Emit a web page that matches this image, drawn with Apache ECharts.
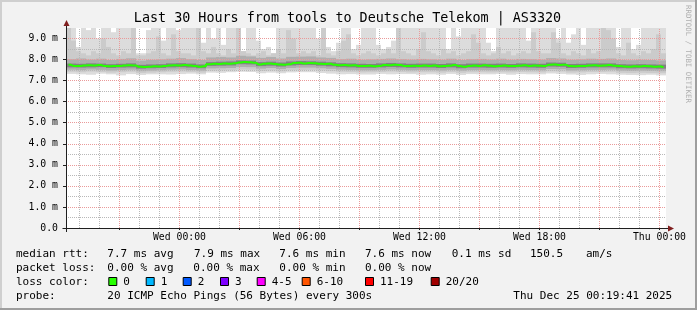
<!DOCTYPE html>
<html><head><meta charset="utf-8">
<script src="https://cdn.jsdelivr.net/npm/echarts@6/dist/echarts.min.js"></script>
<style>html,body{margin:0;padding:0;background:#f2f2f2}#c{width:697px;height:310px}</style>
</head><body><div id="c"></div>
<script>
// ---------- DATA ----------
const title = 'Last 30 Hours from tools to Deutsche Telekom | AS3320';
const startHour = -5.672;   // Tue 18:19:41 relative to Wed 00:00
const endHour = 24.328;     // Thu 00:19:41
const fineStep = 0.25;      // hours per value in 120-value arrays
const coarseStep = 0.5;     // hours per value in 60-value arrays

const xTickValues = [0, 6, 12, 18, 24];
const xTickLabels = ['Wed 00:00', 'Wed 06:00', 'Wed 12:00', 'Wed 18:00', 'Thu 00:00'];
const xMajorGrid = [-3, 0, 3, 6, 9, 12, 15, 18, 21, 24];
const xMinorGrid = [-5, -4, -2, -1, 1, 2, 4, 5, 7, 8, 10, 11, 13, 14, 16, 17, 19, 20, 22, 23];
const yTickValues = [0, 1, 2, 3, 4, 5, 6, 7, 8, 9];
const yTickLabels = ['0.0', '1.0 m', '2.0 m', '3.0 m', '4.0 m', '5.0 m', '6.0 m', '7.0 m', '8.0 m', '9.0 m'];
const yMajorGrid = [1, 2, 3, 4, 5, 6, 7, 8, 9];
const yMinorGrid = [0.5, 1.5, 2.5, 3.5, 4.5, 5.5, 6.5, 7.5, 8.5];

// median RTT (ms), 120 values, 15 min each
const median = [
 7.75,7.70,7.70,7.72,7.73,7.72,7.74,7.70,7.68,7.70,7.69,7.72,7.73,7.72,7.66,7.65,7.66,7.68,7.67,7.69,7.72,7.73,7.72,7.74,
 7.72,7.70,7.66,7.68,7.78,7.80,7.79,7.81,7.80,7.82,7.86,7.88,7.87,7.85,7.77,7.80,7.81,7.79,7.77,7.76,7.78,7.84,7.85,7.81,
 7.84,7.83,7.80,7.79,7.80,7.75,7.73,7.74,7.72,7.73,7.69,7.70,7.71,7.68,7.70,7.74,7.73,7.75,7.74,7.70,7.69,7.71,7.70,7.72,
 7.70,7.72,7.68,7.70,7.71,7.74,7.69,7.66,7.70,7.72,7.70,7.73,7.71,7.68,7.70,7.72,7.70,7.69,7.71,7.73,7.70,7.72,7.71,7.70,
 7.75,7.77,7.74,7.76,7.70,7.68,7.69,7.70,7.72,7.73,7.71,7.72,7.74,7.71,7.70,7.67,7.66,7.68,7.67,7.70,7.68,7.66,7.67,7.64];

// outer smoke top (max ping), 120 values
const smokeHi1 = [
 9.6,9.6,8.6,9.6,9.4,9.6,9.0,9.6,9.6,9.3,9.6,9.6,9.6,9.6,8.3,8.3,9.4,9.6,9.6,8.9,9.6,9.6,9.4,9.6,
 9.6,9.6,9.6,8.8,9.6,9.0,9.6,8.7,9.6,9.6,9.6,8.4,9.6,9.6,8.9,8.5,8.6,8.3,9.6,9.6,9.6,9.6,9.6,9.6,
 9.6,9.6,9.0,9.6,8.6,8.4,8.8,9.6,9.6,8.5,8.7,9.6,9.6,9.6,8.7,8.5,8.6,8.9,9.6,9.6,9.6,9.6,9.6,9.6,
 9.6,9.6,9.6,9.6,8.5,9.6,9.1,9.6,9.6,9.6,9.6,9.6,8.8,8.4,9.6,9.6,9.6,9.6,9.6,9.6,8.9,9.6,9.6,9.6,
 9.6,9.6,9.0,9.6,8.8,9.2,9.6,8.7,9.6,9.6,9.6,9.6,9.6,9.6,8.6,9.6,9.6,8.5,8.7,9.6,9.6,9.6,9.6,9.6];
// second smoke top, 120 values
const smokeHi2 = [
 9.6,8.9,8.4,8.3,8.2,8.4,8.3,9.0,8.6,8.3,8.2,8.4,8.3,9.6,8.2,8.2,8.3,8.4,9.1,8.3,8.2,9.2,8.4,8.3,
 8.3,8.2,9.6,8.4,8.3,8.6,8.3,8.2,8.5,8.3,9.6,8.4,8.3,8.2,8.3,8.4,8.2,8.3,8.5,8.3,9.4,9.0,8.3,8.4,
 8.3,8.4,8.2,9.6,8.3,8.2,8.4,8.9,9.2,8.3,8.2,8.3,8.4,8.3,8.2,8.3,8.5,8.3,9.6,8.4,8.3,8.2,8.5,9.3,
 8.4,8.3,8.2,8.5,8.3,8.4,8.2,8.3,8.4,9.2,8.8,8.3,8.2,8.3,8.6,8.3,8.4,8.2,8.3,8.4,8.3,9.3,8.4,8.3,
 8.3,9.3,8.8,8.3,8.2,8.4,8.3,8.2,8.5,8.3,8.4,9.6,9.4,9.0,8.3,8.2,8.8,8.3,8.2,8.4,8.3,8.5,9.2,8.3];
// inner smoke bounds, 60 values (30 min each)
const smokeLo1 = [7.32,7.30,7.28,7.33,7.30,7.25,7.31,7.27,7.30,7.30,7.29,7.31,7.33,7.30,7.38,7.37,7.40,7.42,7.41,7.35,7.38,7.35,7.39,7.40,7.40,7.36,7.33,7.30,7.31,7.29,7.29,7.32,7.30,7.31,7.31,7.28,7.30,7.28,7.32,7.27,7.31,7.30,7.30,7.32,7.28,7.31,7.30,7.30,7.34,7.32,7.29,7.27,7.30,7.32,7.30,7.28,7.27,7.26,7.28,7.25];
const smokeLo2 = [7.42,7.40,7.43,7.41,7.38,7.40,7.42,7.36,7.38,7.40,7.42,7.43,7.41,7.38,7.47,7.48,7.49,7.53,7.52,7.46,7.48,7.44,7.49,7.50,7.51,7.48,7.45,7.42,7.41,7.39,7.40,7.41,7.43,7.41,7.39,7.40,7.40,7.38,7.41,7.37,7.40,7.40,7.39,7.40,7.39,7.41,7.40,7.39,7.44,7.43,7.38,7.39,7.41,7.41,7.42,7.37,7.36,7.37,7.36,7.35];
const smokeLo3 = [7.52,7.50,7.53,7.51,7.48,7.50,7.52,7.45,7.47,7.49,7.52,7.53,7.50,7.47,7.58,7.59,7.60,7.65,7.64,7.57,7.60,7.55,7.60,7.62,7.62,7.59,7.56,7.52,7.51,7.49,7.49,7.51,7.53,7.51,7.49,7.50,7.50,7.48,7.51,7.47,7.50,7.50,7.49,7.50,7.49,7.51,7.50,7.49,7.55,7.54,7.48,7.49,7.51,7.51,7.52,7.47,7.46,7.47,7.46,7.45];
const smokeHi3 = [8.02,8.05,8.00,8.04,7.98,8.03,8.06,7.95,7.99,8.01,8.04,8.07,8.02,7.98,8.10,8.12,8.10,8.18,8.15,8.08,8.12,8.05,8.13,8.14,8.15,8.10,8.08,8.02,8.04,7.99,8.01,8.03,8.05,8.02,8.00,8.03,8.01,7.99,8.04,7.98,8.02,8.03,8.00,8.04,7.99,8.03,8.02,8.00,8.07,8.05,7.99,8.01,8.04,8.03,8.05,7.98,7.97,7.99,7.98,7.96];
const smokeLo4 = [7.63,7.62,7.63,7.64,7.60,7.62,7.63,7.57,7.59,7.60,7.63,7.64,7.62,7.59,7.70,7.71,7.72,7.78,7.77,7.69,7.71,7.67,7.72,7.74,7.74,7.71,7.68,7.64,7.63,7.61,7.61,7.63,7.65,7.63,7.61,7.62,7.62,7.60,7.63,7.59,7.62,7.62,7.61,7.62,7.61,7.63,7.62,7.61,7.67,7.66,7.60,7.61,7.63,7.63,7.63,7.59,7.58,7.59,7.58,7.57];
const smokeHi4 = [7.81,7.80,7.82,7.81,7.78,7.80,7.82,7.75,7.77,7.78,7.82,7.83,7.81,7.77,7.88,7.90,7.91,7.96,7.95,7.88,7.90,7.86,7.91,7.93,7.92,7.90,7.87,7.83,7.82,7.80,7.79,7.82,7.84,7.82,7.80,7.81,7.81,7.79,7.82,7.78,7.81,7.81,7.80,7.81,7.79,7.82,7.81,7.80,7.86,7.85,7.79,7.80,7.82,7.82,7.82,7.78,7.77,7.78,7.77,7.76];

// legend texts
const rttStats = ['median rtt:', '7.7 ms avg', '7.9 ms max', '7.6 ms min', '7.6 ms now', '0.1 ms sd', '150.5', 'am/s'];
const lossStats = ['packet loss:', '0.00 % avg', '0.00 % max', '0.00 % min', '0.00 % now'];
const lossLabels = ['0', '1', '2', '3', '4-5', '6-10', '11-19', '20/20'];
const lossColors = ['#26ff00', '#00b8ff', '#0059ff', '#7e00ff', '#ff00ff', '#ff5500', '#ff0000', '#a10000'];
const probeText = ['probe:', '20 ICMP Echo Pings (56 Bytes) every 300s', 'Thu Dec 25 00:19:41 2025'];
const rrdTag = 'RRDTOOL / TOBI OETIKER';

// ---------- LAYOUT / STYLE ----------
const FONT = '"DejaVu Sans Mono", monospace';
const G = {left: 66, top: 28, width: 600, height: 200};
const rttX = [16, 107.3, 194, 279.3, 365, 451.7, 530, 586];
const lossX = [16, 107.3, 193.3, 279.3, 365];
const boxX = [108.3, 145.7, 182.7, 220, 256.7, 301.7, 365, 430.7];
const probeX = [16, 107.3, 513.3];

function cells(lo, hi, step) {
  return lo.map((v, i) => [startHour + i * step, startHour + (i + 1) * step, v, hi[i]]);
}
function band(name, lo, hi, step, color, z) {
  return {
    type: 'custom', name: name, z: z, silent: true, animation: false,
    encode: {x: [0, 1], y: [2, 3]},
    data: cells(lo, hi, step),
    renderItem: function (params, api) {
      const p0 = api.coord([api.value(0), api.value(3)]);
      const p1 = api.coord([api.value(1), api.value(2)]);
      const cs = params.coordSys;
      const shape = echarts.graphic.clipRectByRect(
        {x: p0[0], y: p0[1], width: p1[0] - p0[0], height: p1[1] - p0[1]},
        {x: cs.x, y: cs.y, width: cs.width, height: cs.height});
      return shape && {type: 'rect', shape: shape, style: {fill: color}};
    }
  };
}
function lineText(x, y, text, size, extra) {
  return Object.assign({type: 'text', x: x, y: y, silent: true,
    style: Object.assign({text: text, font: size + 'px ' + FONT, fill: '#000', align: 'left', verticalAlign: 'middle',
      textAlign: 'left', textVerticalAlign: 'middle'}, extra || {})});
}

const graphics = [];
graphics.push({type: 'rect', shape: {x: 0, y: 0, width: 697, height: 2}, style: {fill: '#cfcfcf'}, silent: true});
graphics.push({type: 'rect', shape: {x: 0, y: 0, width: 2, height: 310}, style: {fill: '#cfcfcf'}, silent: true});
graphics.push({type: 'rect', shape: {x: 0, y: 308, width: 697, height: 2}, style: {fill: '#9e9e9e'}, silent: true});
graphics.push({type: 'rect', shape: {x: 695, y: 0, width: 2, height: 310}, style: {fill: '#9e9e9e'}, silent: true});
graphics.push(lineText(347.5, 19, title, 13.4, {align: 'center', textAlign: 'center'}));
graphics.push({type: 'line', shape: {x1: 62.5, y1: 228.5, x2: 66.5, y2: 228.5}, style: {stroke: '#1f1f1f', lineWidth: 1}, silent: true});
graphics.push({type: 'line', shape: {x1: 666, y1: 228.5, x2: 669, y2: 228.5}, style: {stroke: '#1f1f1f', lineWidth: 1}, silent: true});
graphics.push({type: 'line', shape: {x1: 66.5, y1: 228, x2: 66.5, y2: 232}, style: {stroke: '#1f1f1f', lineWidth: 1}, silent: true});
graphics.push({type: 'line', shape: {x1: 66.5, y1: 28, x2: 66.5, y2: 25}, style: {stroke: '#1f1f1f', lineWidth: 1}, silent: true});
graphics.push({type: 'polygon', shape: {points: [[668, 225.5], [674, 228.5], [668, 231.5]]}, style: {fill: '#801f1f'}, silent: true});
graphics.push({type: 'polygon', shape: {points: [[63.5, 26], [66.5, 20], [69.5, 26]]}, style: {fill: '#801f1f'}, silent: true});
graphics.push({type: 'text', x: 688, y: 5, rotation: -Math.PI / 2, silent: true,
  style: {text: rrdTag, font: '7.4px ' + FONT, fill: '#b0b0b0', align: 'left', verticalAlign: 'middle', textAlign: 'left', textVerticalAlign: 'middle'}});
rttStats.forEach((t, i) => graphics.push(lineText(rttX[i], 254, t, 11)));
lossStats.forEach((t, i) => graphics.push(lineText(lossX[i], 268.3, t, 11)));
graphics.push(lineText(16, 282, 'loss color:', 11));
lossLabels.forEach((t, i) => {
  graphics.push({type: 'rect', shape: {x: boxX[i] + 0.5, y: 277.5, width: 8, height: 8}, style: {fill: lossColors[i], stroke: '#000', lineWidth: 1}, silent: true});
  graphics.push(lineText(boxX[i] + 15, 282, t, 11));
});
probeText.forEach((t, i) => graphics.push(lineText(probeX[i], 296.5, t, 11)));

const axisLabelStyle = {fontFamily: FONT, fontSize: 9.8, color: '#000'};
const series = [
  band('smoke1', smokeLo1.flatMap(v => [v, v]), smokeHi1, fineStep, '#dcdcdc', 2),
  band('smoke2', smokeLo2.flatMap(v => [v, v]), smokeHi2, fineStep, '#cbcbcb', 3),
  band('smoke3', smokeLo3, smokeHi3, coarseStep, '#aeaeae', 4),
  band('smoke4', smokeLo4, smokeHi4, coarseStep, '#828282', 5),
  {
    type: 'line', name: 'grid', data: [], z: 6, silent: true, animation: false,
    markLine: {
      silent: true, symbol: 'none', animation: false, label: {show: false},
      data: [].concat(
        xMinorGrid.map(v => ({xAxis: v, lineStyle: {color: '#b8b8b8', type: [1, 1], width: 1}})),
        yMinorGrid.map(v => ({yAxis: v, lineStyle: {color: '#b8b8b8', type: [1, 1], width: 1}})),
        xMajorGrid.map(v => ({xAxis: v, lineStyle: {color: '#ea9a9a', type: [1, 1], width: 1}})),
        yMajorGrid.map(v => ({yAxis: v, lineStyle: {color: '#ea9a9a', type: [1, 1], width: 1}}))
      )
    }
  }, {
    type: 'line', name: 'median', data: median.map((v, i) => [startHour + (i + 0.5) * fineStep, v]),
    step: 'middle', symbol: 'none', z: 7,
    silent: true, animation: false, lineStyle: {color: '#26ff00', width: 2}
  }
];

const chart = echarts.init(document.getElementById('c'), null, {renderer: 'canvas', width: 697, height: 310});
chart.setOption({
  animation: false,
  backgroundColor: '#f2f2f2',
  grid: Object.assign({backgroundColor: '#ffffff', show: true, borderWidth: 0}, G),
  xAxis: {
    type: 'value', min: startHour, max: endHour, z: 8,
    axisLine: {show: true, onZero: false, lineStyle: {color: '#1f1f1f', width: 1}},
    axisTick: {show: true, customValues: xMajorGrid, length: 2, lineStyle: {color: '#1f1f1f'}},
    axisLabel: {show: true, customValues: xTickValues, margin: 4, formatter: v => xTickLabels[xTickValues.indexOf(v)] || '', ...axisLabelStyle},
    splitLine: {show: false}
  },
  yAxis: {
    type: 'value', min: 0, max: 9.5, z: 8,
    axisLine: {show: true, onZero: false, lineStyle: {color: '#1f1f1f', width: 1}},
    axisTick: {show: true, customValues: yTickValues, length: 3, lineStyle: {color: '#1f1f1f'}},
    axisLabel: {show: true, customValues: yTickValues, margin: 8, formatter: v => yTickLabels[yTickValues.indexOf(v)] || '', ...axisLabelStyle},
    splitLine: {show: false}
  },
  graphic: {elements: graphics},
  series: series
});
</script>
</body></html>
